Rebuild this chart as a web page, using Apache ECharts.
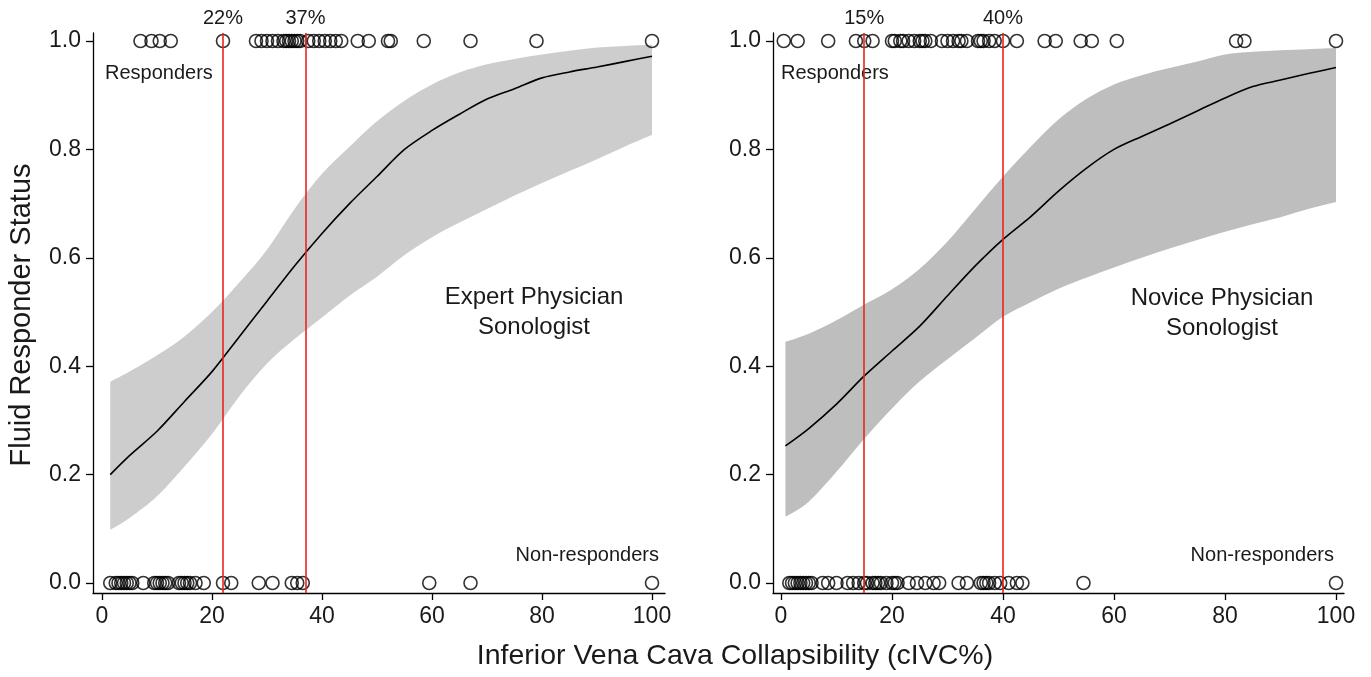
<!DOCTYPE html>
<html>
<head>
<meta charset="utf-8">
<title>Fluid Responder Status vs cIVC%</title>
<script src="https://cdn.jsdelivr.net/npm/echarts@6/dist/echarts.min.js"></script>
<style>
    html, body { margin: 0; padding: 0; background: #fff; }
    #main { width: 1371px; height: 677px; }
</style>
</head>
<body>
<div id="main"></div>
<script>
// 刻度
const xTicks = [0, 20, 40, 60, 80, 100];
const yTicks = [0, 0.2, 0.4, 0.6, 0.8, 1.0];

// 专家组 - 观测点 (cIVC%)
const expertResponders = [7, 9, 10.5, 12.5, 22, 28, 29, 30, 31, 32, 33, 33.5, 34, 34.5, 35, 35.5, 36, 37.5,
    38.5, 39.5, 40.5, 41.5, 42.5, 43.5, 46.5, 48.5, 52, 52.5, 58.5, 67, 79, 100];
const expertNonResponders = [1.5, 2.5, 3, 3.5, 4, 4.5, 5, 5.5, 7.5, 9.5, 10, 10.5, 11, 11.5, 12, 14, 14.5, 15,
    15.5, 16, 17, 18.5, 22, 23.5, 28.5, 31, 34.5, 35.5, 36.5, 59.5, 67, 100];
// 专家组 - 拟合曲线及置信带
const expertX = [1.5, 5, 10, 15, 20, 25, 30, 35, 40, 45, 50, 55, 60, 65, 70, 75, 80, 85, 90, 95, 100];
const expertFit = [0.20, 0.235, 0.28, 0.335, 0.39, 0.455, 0.52, 0.585, 0.645, 0.70, 0.75, 0.80, 0.835, 0.865,
    0.893, 0.912, 0.932, 0.943, 0.952, 0.962, 0.972];
const expertLo = [0.098, 0.12, 0.16, 0.215, 0.275, 0.345, 0.405, 0.45, 0.49, 0.53, 0.565, 0.605, 0.638, 0.665,
    0.69, 0.715, 0.738, 0.76, 0.782, 0.805, 0.827];
const expertHi = [0.371, 0.39, 0.42, 0.455, 0.50, 0.555, 0.615, 0.69, 0.755, 0.805, 0.852, 0.89, 0.92, 0.942,
    0.957, 0.967, 0.975, 0.982, 0.988, 0.991, 0.993];
const expertCuts = [22, 37];

// 新手组 - 观测点
const noviceResponders = [0.5, 3, 8.5, 13.5, 15, 16.5, 20, 20.5, 21.5, 22, 23, 24, 25, 25.5, 26, 27, 29, 30, 31,
    32, 32.5, 33.5, 35.5, 36, 36.5, 37.5, 38.5, 40, 42.5, 47.5, 49.5, 54, 56, 60.5, 82, 83.5, 100];
const noviceNonResponders = [1.5, 2, 2.5, 3, 3.5, 4, 4.5, 5, 5.5, 7.5, 8.5, 10, 12, 13, 14, 15, 15.5, 16.5, 17,
    17.5, 18, 19, 20, 20.5, 21, 23, 24.5, 26, 27.5, 28.5, 32, 33.5, 36, 36.5, 37, 37.5, 38.5, 39.5, 41, 42.5,
    43.5, 54.5, 100];
// 新手组 - 拟合曲线及置信带
const noviceX = [0.8, 5, 10, 15, 20, 25, 30, 35, 40, 45, 50, 55, 60, 65, 70, 75, 80, 85, 90, 95, 100];
const noviceFit = [0.253, 0.285, 0.33, 0.382, 0.428, 0.474, 0.53, 0.585, 0.634, 0.676, 0.723, 0.765, 0.80, 0.824,
    0.847, 0.871, 0.895, 0.916, 0.928, 0.94, 0.951];
const noviceLo = [0.122, 0.15, 0.205, 0.266, 0.322, 0.372, 0.413, 0.452, 0.491, 0.518, 0.543, 0.563, 0.582, 0.60,
    0.617, 0.633, 0.648, 0.662, 0.675, 0.69, 0.703];
const noviceHi = [0.445, 0.46, 0.485, 0.514, 0.542, 0.58, 0.63, 0.69, 0.75, 0.805, 0.855, 0.893, 0.92, 0.937,
    0.95, 0.962, 0.975, 0.98, 0.983, 0.985, 0.987];
const noviceCuts = [15, 40];

const FONT = '"Liberation Sans", Arial, sans-serif';

const chart = echarts.init(document.getElementById('main'));

function xAxisCfg(idx, min, max) {
    return {
        type: 'value', gridIndex: idx, min: min, max: max,
        splitLine: { show: false },
        axisLine: { onZero: false, lineStyle: { color: '#000', width: 1.3 } },
        axisTick: { customValues: xTicks, length: 7, lineStyle: { color: '#000', width: 1.3 } },
        axisLabel: { customValues: xTicks, fontSize: 23, color: '#1a1a1a', margin: 12, fontFamily: FONT }
    };
}

function yAxisCfg(idx) {
    return {
        type: 'value', gridIndex: idx, min: -0.0185, max: 1.0148,
        splitLine: { show: false },
        axisLine: { onZero: false, lineStyle: { color: '#000', width: 1.3 } },
        axisTick: { customValues: yTicks, length: 7, lineStyle: { color: '#000', width: 1.3 } },
        axisLabel: {
            customValues: yTicks, fontSize: 23, color: '#1a1a1a', margin: 12, fontFamily: FONT,
            formatter: function (v) { return v.toFixed(1); }
        }
    };
}

// Catmull-Rom 曲线 -> 三次贝塞尔路径片段
function curvePath(pts) {
    let d = '';
    for (let i = 0; i < pts.length - 1; i++) {
        const p0 = pts[Math.max(i - 1, 0)], p1 = pts[i], p2 = pts[i + 1], p3 = pts[Math.min(i + 2, pts.length - 1)];
        const c1 = [p1[0] + (p2[0] - p0[0]) / 6, p1[1] + (p2[1] - p0[1]) / 6];
        const c2 = [p2[0] - (p3[0] - p1[0]) / 6, p2[1] - (p3[1] - p1[1]) / 6];
        d += ' C' + c1[0] + ' ' + c1[1] + ' ' + c2[0] + ' ' + c2[1] + ' ' + p2[0] + ' ' + p2[1];
    }
    return d;
}

// 置信带
function bandSeries(idx, xs, lo, hi, color) {
    return {
        type: 'custom', xAxisIndex: idx, yAxisIndex: idx, silent: true, z: 1,
        data: xs.map(function (x, k) { return [x, lo[k], hi[k]]; }),
        encode: { x: 0, y: [1, 2] },
        renderItem: function (params, api) {
            if (params.dataIndex !== 0) return;
            const up = xs.map(function (x, k) { return api.coord([x, hi[k]]); });
            const dn = xs.map(function (x, k) { return api.coord([x, lo[k]]); }).reverse();
            const d = 'M' + up[0][0] + ' ' + up[0][1] + curvePath(up) +
                ' L' + dn[0][0] + ' ' + dn[0][1] + curvePath(dn) + ' Z';
            return { type: 'path', shape: { pathData: d }, style: { fill: color } };
        }
    };
}

function fitSeries(idx, xs, ys, cuts) {
    return {
        type: 'line', xAxisIndex: idx, yAxisIndex: idx, z: 3,
        data: xs.map(function (x, k) { return [x, ys[k]]; }),
        showSymbol: false, smooth: 0.3,
        lineStyle: { color: '#000', width: 1.6 },
        markLine: {
            silent: true, symbol: 'none',
            lineStyle: { color: '#e8261c', width: 1.6, type: 'solid' },
            label: {
                show: true, position: 'end', distance: 5, color: '#1a1a1a', fontSize: 20, fontFamily: FONT,
                formatter: function (p) { return p.value + '%'; }
            },
            data: cuts.map(function (c) { return { xAxis: c }; })
        }
    };
}

function pointSeries(idx, xs, y) {
    return {
        type: 'scatter', xAxisIndex: idx, yAxisIndex: idx, z: 4,
        data: xs.map(function (x) { return [x, y]; }),
        symbol: 'circle', symbolSize: 13,
        itemStyle: { color: 'rgba(0,0,0,0)', borderColor: '#000', borderWidth: 1.6 }
    };
}

function label(text, x, y, size, align) {
    return {
        type: 'text', x: x, y: y,
        style: {
            text: text, fill: '#1a1a1a', fontSize: size, fontFamily: FONT,
            align: align || 'left', verticalAlign: 'middle'
        }
    };
}

const chartOption = {
    animation: false,
    backgroundColor: '#fff',
    grid: [
        { left: 93, top: 33, width: 572, height: 560 },
        { left: 773, top: 33, width: 571, height: 560 }
    ],
    xAxis: [xAxisCfg(0, -1.636, 102.36), xAxisCfg(1, -1.44, 101.44)],
    yAxis: [yAxisCfg(0), yAxisCfg(1)],
    series: [
        bandSeries(0, expertX, expertLo, expertHi, '#cdcdcd'),
        fitSeries(0, expertX, expertFit, expertCuts),
        pointSeries(0, expertResponders, 1),
        pointSeries(0, expertNonResponders, 0),
        bandSeries(1, noviceX, noviceLo, noviceHi, '#bebebe'),
        fitSeries(1, noviceX, noviceFit, noviceCuts),
        pointSeries(1, noviceResponders, 1),
        pointSeries(1, noviceNonResponders, 0)
    ],
    graphic: [
        {
            type: 'text', x: 22, y: 315, rotation: Math.PI / 2,
            style: {
                text: 'Fluid Responder Status', fill: '#1a1a1a', fontSize: 29, fontFamily: FONT,
                align: 'center', verticalAlign: 'middle'
            }
        },
        label('Inferior Vena Cava Collapsibility (cIVC%)', 735, 656, 28.5, 'center'),
        label('Responders', 105, 73, 20),
        label('Non-responders', 659, 555, 20, 'right'),
        label('Expert Physician', 534, 297, 24, 'center'),
        label('Sonologist', 534, 327, 24, 'center'),
        label('Responders', 781, 73, 20),
        label('Non-responders', 1334, 555, 20, 'right'),
        label('Novice Physician', 1222, 298, 24, 'center'),
        label('Sonologist', 1222, 328, 24, 'center')
    ]
};

chart.setOption(chartOption);
</script>
</body>
</html>
